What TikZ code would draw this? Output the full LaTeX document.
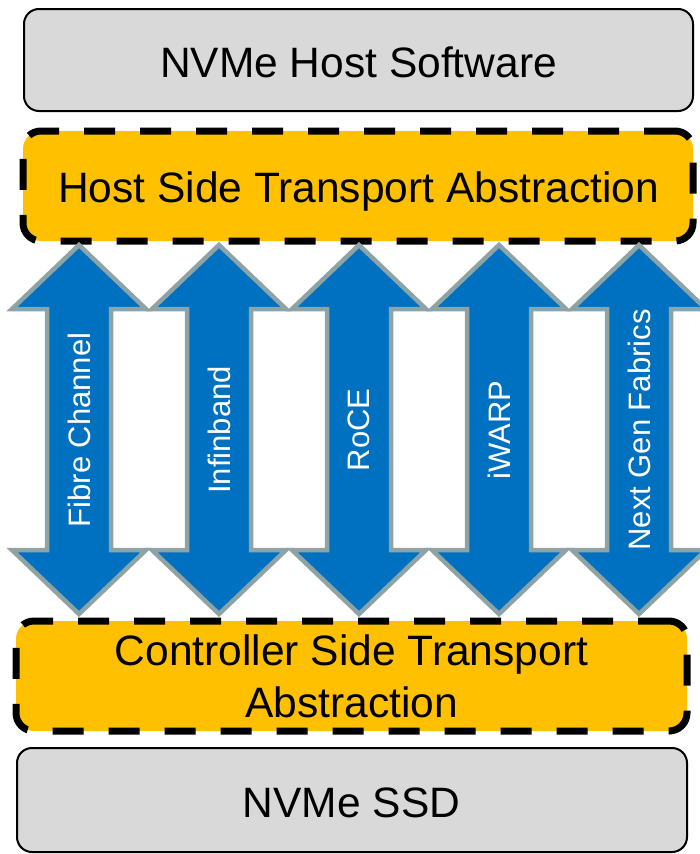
\documentclass[tikz,border=0pt]{standalone}
\usepackage{fontspec}
\setmainfont{Liberation Sans}
\definecolor{boxgrey}{HTML}{D9D9D9}
\definecolor{boxyellow}{HTML}{FFC000}
\definecolor{arrowblue}{HTML}{0070C0}
\definecolor{arrowedge}{HTML}{8EA3A6}
\begin{document}
\begin{tikzpicture}[x=1pt,y=-1pt,
  greybox/.style={draw=black, line width=2pt, fill=boxgrey, rounded corners=15pt, inner sep=0pt, outer sep=0pt},
  yellowbox/.style={draw=black, line width=7pt, dash pattern=on 31pt off 25pt, fill=boxyellow, rounded corners=18pt, inner sep=0pt, outer sep=0pt},
  bigtext/.style={font=\fontsize{42.5}{52}\selectfont, text=black, inner sep=0pt, anchor=base},
  fabric/.style={draw=arrowedge, line width=4.5pt, fill=arrowblue, miter limit=10},
  fabrictext/.style={font=\fontsize{31}{37}\selectfont, text=white, rotate=90, inner sep=0pt, anchor=center}
]
\useasboundingbox (0,0) rectangle (699,854);

% boxes
\node[greybox, minimum width=669pt, minimum height=102pt] (software) at (358.5,60) {};
\node[yellowbox, minimum width=670pt, minimum height=110pt] (hostside) at (358,186) {};
\node[yellowbox, minimum width=671pt, minimum height=110pt] (ctrlside) at (351.5,676) {};
\node[greybox, minimum width=670pt, minimum height=104pt] (ssd) at (352,800) {};

% box texts
\node[bigtext] (softwareT) at (358.5,77) {NVMe Host Software};
\node[bigtext] (hostsideT) at (358.5,202) {Host Side Transport Abstraction};
\node[bigtext] (ctrlsideT1) at (351.5,665) {Controller Side Transport};
\node[bigtext] (ctrlsideT2) at (351.5,717) {Abstraction};
\node[bigtext] (ssdT) at (351.5,817) {NVMe SSD};

% double arrows
\foreach \cx/\lbl/\nm in {79/Fibre Channel/fc, 219/Infinband/ib, 359/RoCE/roce, 499/iWARP/iwarp, 639/Next Gen Fabrics/ngf}{
  \draw[fabric] (\cx,245) -- (\cx+67,309) -- (\cx+32,309) -- (\cx+32,550) -- (\cx+67,550)
    -- (\cx,614) -- (\cx-67,550) -- (\cx-32,550) -- (\cx-32,309) -- (\cx-67,309) -- cycle;
  \node[fabrictext] (\nm) at (\cx,430) {\lbl};
}
\end{tikzpicture}
\end{document}
